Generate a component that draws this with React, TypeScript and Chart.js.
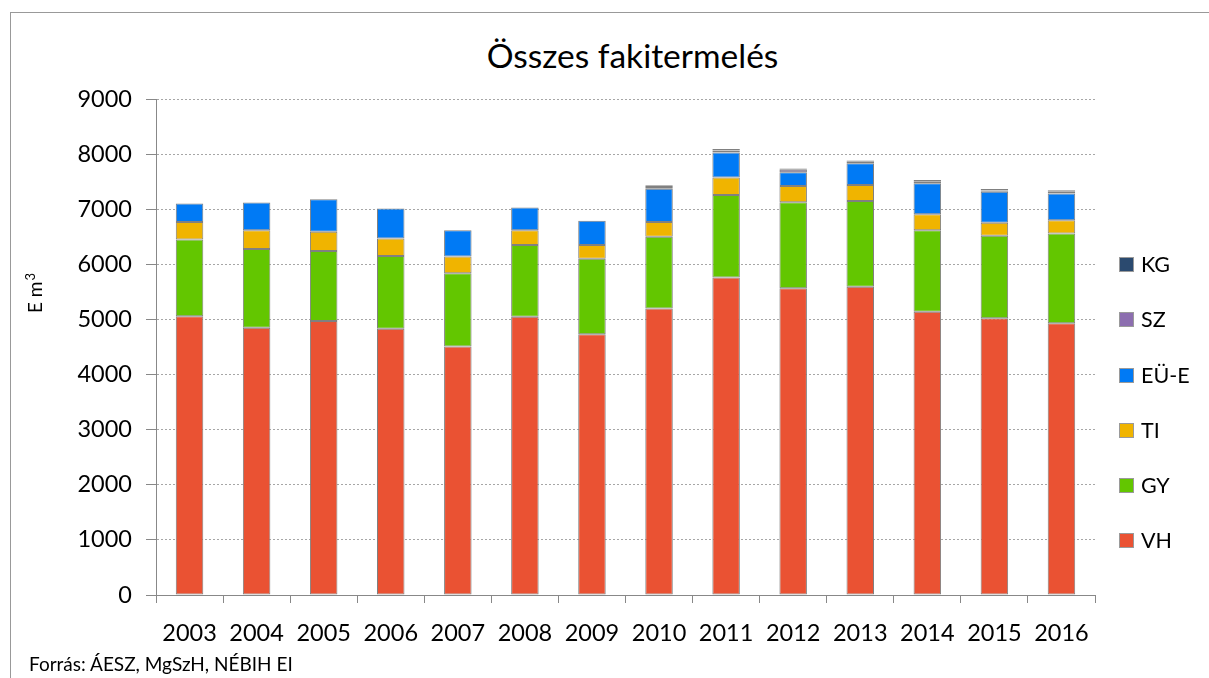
import React, { useEffect, useRef } from "react";
import { Chart, registerables } from "chart.js";

Chart.register(...registerables);

const years = ["2003", "2004", "2005", "2006", "2007", "2008", "2009", "2010", "2011", "2012", "2013", "2014", "2015", "2016"];
const vh = [5060, 4850, 4970, 4830, 4510, 5050, 4730, 5200, 5760, 5565, 5595, 5140, 5020, 4930];
const gy = [1390, 1430, 1270, 1320, 1330, 1300, 1370, 1300, 1500, 1560, 1555, 1480, 1500, 1630];
const ti = [320, 340, 350, 320, 300, 270, 250, 270, 315, 295, 290, 290, 235, 240];
const eue = [335, 500, 590, 545, 480, 410, 440, 600, 455, 250, 395, 560, 560, 485];
const sz = [null, null, null, null, null, null, null, 35, 35, 45, 25, 30, 25, 30];
const kg = [null, null, null, null, null, null, null, 30, 30, 25, 25, 30, 25, 30];

const seriesNames = ["VH", "GY", "TI", "EÜ-E", "SZ", "KG"];
const seriesColors = ["#EA5233", "#63C600", "#F0B400", "#007AF5", "#8C6EAF", "#2B4A6F"];
const yTicks = [0, 1000, 2000, 3000, 4000, 5000, 6000, 7000, 8000, 9000];

const FONT = "Lato, 'Noto Sans', sans-serif";

const legendPlugin = {
  id: "sideLegend",
  afterDraw(chart: any) {
    const ctx = chart.ctx;
    const y = chart.scales.y;
    ctx.save();
    ctx.font = `21.5px ${FONT}`;
    ctx.textBaseline = "middle";
    ctx.textAlign = "left";
    chart.data.datasets.forEach((ds: any, i: number) => {
      const py = Math.round(y.getPixelForValue((i + 1) * 1000));
      ctx.fillStyle = ds.backgroundColor;
      ctx.fillRect(1119.5, py - 7, 14, 14);
      ctx.strokeStyle = "#9a9a9a";
      ctx.lineWidth = 1;
      ctx.strokeRect(1119.5, py - 6.5, 14, 14);
      ctx.fillStyle = "#000";
      ctx.fillText(ds.label, 1141, py + 1);
    });
    // y axis title: "E m" with superscript 3
    ctx.translate(42, 313);
    ctx.rotate(-Math.PI / 2);
    ctx.textAlign = "left";
    ctx.textBaseline = "alphabetic";
    ctx.font = `19px ${FONT}`;
    const base = "E m";
    ctx.fillText(base, 0, 0);
    const w = ctx.measureText(base).width;
    ctx.font = `13px ${FONT}`;
    ctx.fillText("3", w + 1, -7);
    ctx.restore();
  },
};

export default function App() {
  const ref = useRef<HTMLCanvasElement | null>(null);
  useEffect(() => {
    if (!ref.current) return;
    const values = [vh, gy, ti, eue, sz, kg];
    const chart = new Chart(ref.current, {
      type: "bar",
      data: {
        labels: years,
        datasets: seriesNames.map((name, i) => ({
          label: name,
          data: values[i] as any,
          backgroundColor: seriesColors[i],
          borderColor: "#808080",
          borderWidth: 1,
          borderSkipped: false,
          barPercentage: 0.41,
          categoryPercentage: 1,
        })),
      },
      options: {
        animation: false,
        responsive: true,
        maintainAspectRatio: false,
        layout: { padding: { left: 0, right: 114, top: 99, bottom: 0 } },
        plugins: {
          legend: { display: false },
          tooltip: { enabled: false },
          title: { display: false },
        },
        scales: {
          x: {
            stacked: true,
            grid: { display: true, drawOnChartArea: false, offset: true, tickLength: 8, color: "#888", tickColor: "#888" },
            border: { color: "#888", width: 1 },
            ticks: { color: "#000", font: { family: FONT, size: 23.5 }, padding: 16, maxRotation: 0 },
            afterFit: (s: any) => { s.height = 83; },
          },
          y: {
            stacked: true,
            min: 0,
            max: 9000,
            afterBuildTicks: (s: any) => { s.ticks = yTicks.map((v) => ({ value: v })); },
            grid: { color: "#a6a6a6", tickColor: "#888", tickLength: 10, tickBorderDash: [] },
            border: { color: "#888", width: 1, dash: [2, 2] },
            ticks: {
              color: "#000",
              font: { family: FONT, size: 23.5 },
              padding: 14,
              callback: (v: any) => String(v),
            },
            afterFit: (s: any) => { s.width = 156; },
          },
        },
      },
      plugins: [legendPlugin],
    });
    return () => chart.destroy();
  }, []);

  return (
    <div style={{ position: "absolute", left: 0, top: 0, width: 1209, height: 678, overflow: "hidden", background: "#fff" }}>
      <div style={{ position: "absolute", left: 10, top: 12, width: 1300, height: 800, borderTop: "1px solid #999", borderLeft: "1px solid #999" }} />
      <div style={{ position: "absolute", left: 0, top: 33, width: 1265, textAlign: "center", fontFamily: FONT, fontSize: 33.5, lineHeight: "44px", color: "#000", whiteSpace: "nowrap" }}>
        Összes fakitermelés
      </div>
      <div style={{ position: "absolute", left: 0, top: 0, width: 1209, height: 678 }}>
        <canvas ref={ref} />
      </div>
      <div style={{ position: "absolute", left: 29, top: 652, fontFamily: FONT, fontSize: 19, color: "#000", whiteSpace: "nowrap" }}>
        Forrás: ÁESZ, MgSzH, NÉBIH EI
      </div>
    </div>
  );
}
